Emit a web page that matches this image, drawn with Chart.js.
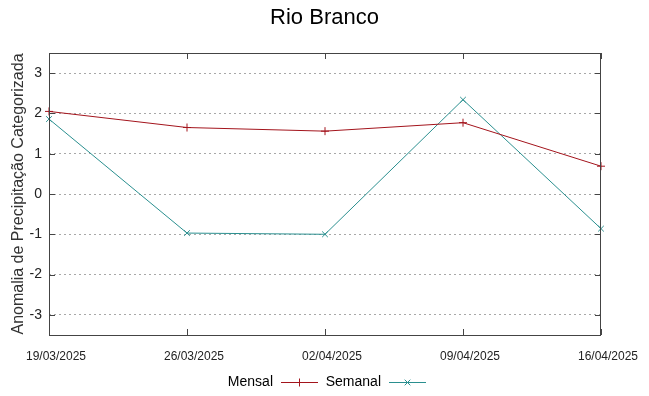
<!DOCTYPE html>
<html>
<head>
<meta charset="utf-8">
<script src="https://cdn.jsdelivr.net/npm/chart.js@4/dist/chart.umd.min.js"></script>
<style>
  html, body { margin: 0; padding: 0; background: #fff; }
  #wrap { width: 649px; height: 396px; position: relative; }
</style>
</head>
<body>
<div id="wrap"><canvas id="chart" width="649" height="396"></canvas></div>
<script>
const dates = ['19/03/2025', '26/03/2025', '02/04/2025', '09/04/2025', '16/04/2025'];
const mensal = [2.05, 1.65, 1.56, 1.77, 0.69];
const semanal = [1.86, -0.97, -1.0, 2.34, -0.86];
const yTicks = [-3, -2, -1, 0, 1, 2, 3];

const redCol = '#a3141c';
const tealCol = '#2a8f8f';
const font = '"Liberation Sans", Arial, sans-serif';

// frame + inward ticks like the original
const framePlugin = {
  id: 'frame',
  afterDraw(chart) {
    const { ctx, chartArea: a, scales } = chart;
    ctx.save();
    ctx.strokeStyle = '#444';
    ctx.lineWidth = 1;
    ctx.strokeRect(a.left + 0.5, a.top + 0.5, a.right - a.left - 1, a.bottom - a.top);
    ctx.beginPath();
    scales.x.ticks.forEach((t, i) => {
      const x = Math.round(scales.x.getPixelForTick(i)) + 0.5;
      ctx.moveTo(x, a.bottom); ctx.lineTo(x, a.bottom - 6);
      ctx.moveTo(x, a.top); ctx.lineTo(x, a.top + 6);
    });
    scales.y.ticks.forEach(t => {
      const y = Math.round(scales.y.getPixelForValue(t.value)) + 0.5;
      ctx.moveTo(a.left, y); ctx.lineTo(a.left + 6, y);
      ctx.moveTo(a.right, y); ctx.lineTo(a.right - 6, y);
    });
    ctx.stroke();

    // legend: text then sample line with marker
    const items = [
      { label: 'Mensal', color: redCol, style: 'cross', textEnd: 273 },
      { label: 'Semanal', color: tealCol, style: 'crossRot', textEnd: 381 }
    ];
    const ly = 382;
    ctx.font = '14px ' + font;
    ctx.textAlign = 'right';
    ctx.textBaseline = 'middle';
    items.forEach(it => {
      ctx.fillStyle = '#000';
      ctx.fillText(it.label, it.textEnd, ly);
      const x0 = it.textEnd + 8, x1 = x0 + 37;
      ctx.strokeStyle = it.color;
      ctx.lineWidth = 1;
      ctx.beginPath();
      ctx.moveTo(x0, ly + 0.5); ctx.lineTo(x1, ly + 0.5);
      ctx.stroke();
      Chart.helpers.drawPoint(ctx, { pointStyle: it.style, radius: 4, borderWidth: 1 }, (x0 + x1) / 2, ly + 0.5);
    });
    ctx.restore();
  }
};

new Chart(document.getElementById('chart').getContext('2d'), {
  type: 'line',
  data: {
    labels: dates,
    datasets: [
      { label: 'Mensal', data: mensal, borderColor: redCol, backgroundColor: redCol,
        borderWidth: 1, pointStyle: 'cross', pointRadius: 4, pointBorderWidth: 1, fill: false, tension: 0 },
      { label: 'Semanal', data: semanal, borderColor: tealCol, backgroundColor: tealCol,
        borderWidth: 1, pointStyle: 'crossRot', pointRadius: 4, pointBorderWidth: 1, fill: false, tension: 0 }
    ]
  },
  options: {
    responsive: false,
    animation: false,
    layout: { padding: { left: 0, right: 0, top: 0, bottom: 30 } },
    plugins: {
      legend: { display: false },
      tooltip: { enabled: false },
      title: {
        display: true, text: 'Rio Branco', color: '#000',
        font: { family: font, size: 22, weight: 'normal' },
        padding: { top: 5, bottom: 21.6 }
      }
    },
    scales: {
      x: {
        offset: false,
        grid: { display: false, drawTicks: false },
        border: { display: false },
        ticks: {
          autoSkip: false, maxRotation: 0, padding: 14, labelOffset: 7, color: '#222',
          font: { family: '"Liberation Sans Narrow", "Liberation Sans", sans-serif', size: 12 }
        },
        afterFit: s => { s.height = 31; }
      },
      y: {
        min: -3.5, max: 3.5,
        afterBuildTicks: s => { s.ticks = yTicks.map(v => ({ value: v })); },
        grid: { color: '#a8a8a8', lineWidth: 1, drawTicks: false },
        border: { display: false, dash: [2, 3] },
        ticks: {
          padding: 7, color: '#222',
          font: { family: font, size: 14 }
        },
        title: {
          display: true, text: 'Anomalia de Precipitação Categorizada', color: '#333',
          font: { family: font, size: 16 }, padding: { top: 9, bottom: 0 }
        },
        afterFit: s => { s.width = 49; }
      },
      y2: {
        position: 'right',
        min: -3.5, max: 3.5,
        grid: { display: false, drawTicks: false },
        border: { display: false },
        ticks: { display: false },
        afterFit: s => { s.width = 48; }
      }
    }
  },
  plugins: [framePlugin]
});
</script>
</body>
</html>
